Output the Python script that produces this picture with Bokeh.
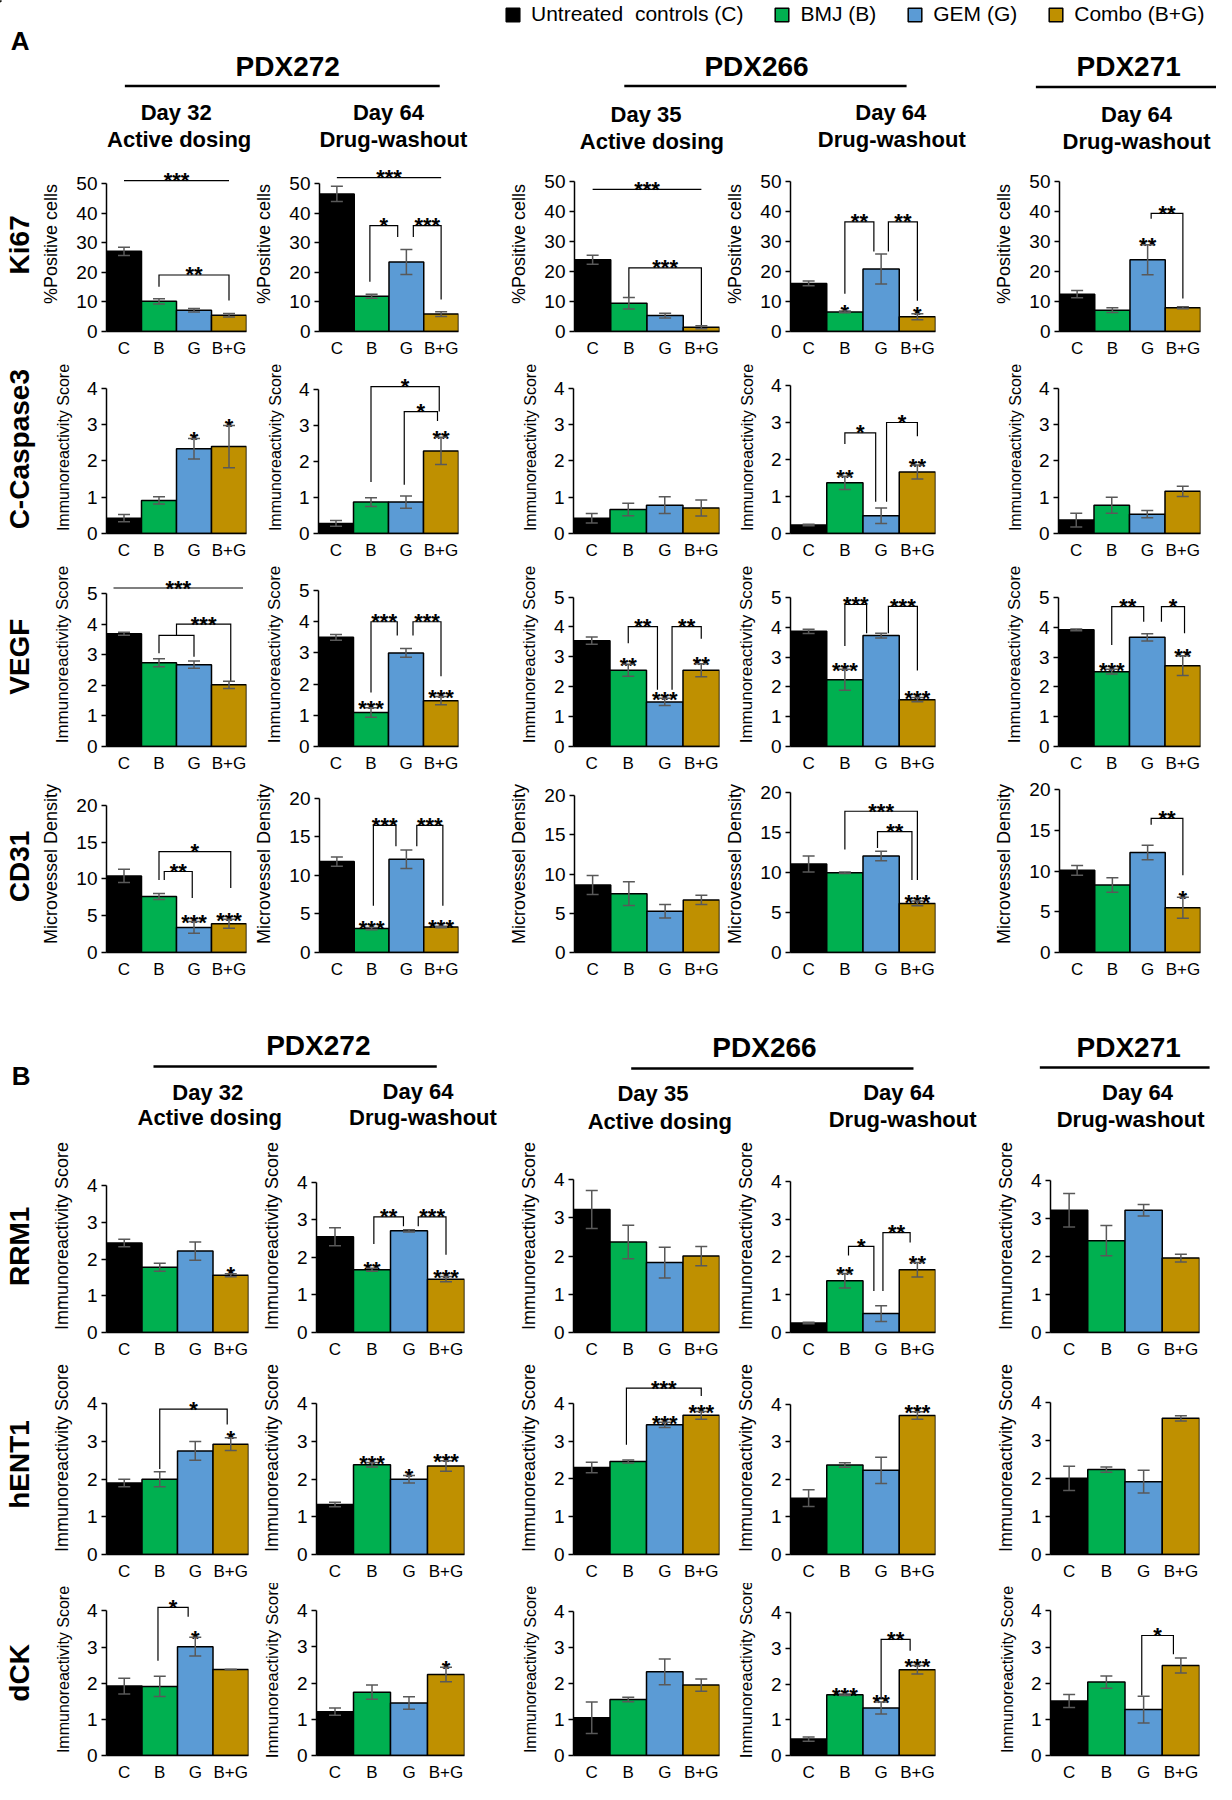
import math
from bokeh.plotting import figure
from bokeh.models import (Range1d, FixedTicker, ColumnDataSource, Whisker, TeeHead,
                          Legend, LegendItem)
from bokeh.layouts import row, column
from bokeh.embed import file_html
from bokeh.resources import INLINE
from bokeh.core.properties import value

# ---------------- data ----------------
GROUPS = ["C", "B", "G", "B+G"]
COLORS = ["#000000", "#00B050", "#5B9BD5", "#BF9000"]
LEGEND_LABELS = ["Untreated  controls (C)", "BMJ (B)", "GEM (G)", "Combo (B+G)"]
MODELS = ["PDX272", "PDX266", "PDX271"]
PANEL_TITLES = [("Day 32", "Active dosing"), ("Day 64", "Drug-washout"),
                ("Day 35", "Active dosing"), ("Day 64", "Drug-washout"),
                ("Day 64", "Drug-washout")]

MARKERS = ["Ki67", "C-Caspase3", "VEGF", "CD31", "RRM1", "hENT1", "dCK"]
Y_LABELS = ["%Positive cells", "Immunoreactivity Score", "Immunoreactivity Score",
            "Microvessel Density", "Immunoreactivity Score", "Immunoreactivity Score",
            "Immunoreactivity Score"]
Y_MAX = [50, 4, 5, 20, 4, 4, 4]
Y_STEP = [10, 1, 1, 5, 1, 1, 1]

# columns: PDX272 D32, PDX272 D64, PDX266 D35, PDX266 D64, PDX271 D64
KI67_MEAN = [[27.1, 10.2, 7.2, 5.5], [46.5, 11.9, 23.5, 5.9], [23.9, 9.4, 5.3, 1.4],
             [16.0, 6.5, 20.8, 4.9], [12.4, 7.1, 23.9, 7.9]]
KI67_ERR = [[1.4, 0.9, 0.6, 0.6], [2.6, 0.7, 4.2, 0.8], [1.5, 1.9, 0.8, 0.5],
            [0.8, 0.3, 5.0, 1.0], [1.2, 0.8, 5.0, 0.3]]
CASP3_MEAN = [[0.42, 0.91, 2.33, 2.39], [0.28, 0.87, 0.87, 2.29], [0.42, 0.66, 0.78, 0.70],
              [0.23, 1.37, 0.48, 1.66], [0.37, 0.78, 0.53, 1.16]]
CASP3_ERR = [[0.10, 0.10, 0.28, 0.58], [0.08, 0.12, 0.17, 0.38], [0.13, 0.17, 0.23, 0.22],
             [0.02, 0.18, 0.21, 0.19], [0.19, 0.22, 0.10, 0.14]]
VEGF_MEAN = [[3.69, 2.74, 2.68, 2.02], [3.50, 1.09, 3.00, 1.47], [3.54, 2.55, 1.49, 2.55],
             [3.86, 2.24, 3.72, 1.57], [3.91, 2.51, 3.66, 2.71]]
VEGF_ERR = [[0.05, 0.13, 0.12, 0.12], [0.09, 0.15, 0.14, 0.13], [0.12, 0.20, 0.12, 0.22],
            [0.07, 0.35, 0.08, 0.07], [0.03, 0.08, 0.12, 0.33]]
CD31_MEAN = [[10.4, 7.6, 3.4, 3.9], [11.8, 3.1, 12.1, 3.3], [8.6, 7.5, 5.25, 6.7],
             [11.1, 10.0, 12.1, 6.15], [10.1, 8.3, 12.3, 5.5]]
CD31_ERR = [[0.9, 0.4, 0.8, 0.6], [0.6, 0.15, 1.2, 0.1], [1.2, 1.5, 0.85, 0.6],
            [1.0, 0.1, 0.6, 0.3], [0.6, 0.9, 0.9, 1.3]]
RRM1_MEAN = [[2.44, 1.78, 2.22, 1.56], [2.55, 1.67, 2.71, 1.42], [3.22, 2.37, 1.83, 2.00],
             [0.25, 1.37, 0.50, 1.66], [3.22, 2.42, 3.22, 1.96]]
RRM1_ERR = [[0.10, 0.11, 0.25, 0.04], [0.24, 0.04, 0.03, 0.07], [0.50, 0.44, 0.40, 0.25],
            [0.02, 0.19, 0.21, 0.19], [0.44, 0.40, 0.15, 0.10]]
HENT1_MEAN = [[1.90, 2.00, 2.75, 2.93], [1.33, 2.38, 2.00, 2.35], [2.30, 2.46, 3.43, 3.68],
              [1.50, 2.38, 2.24, 3.70], [2.01, 2.24, 1.92, 3.59]]
HENT1_ERR = [[0.10, 0.20, 0.25, 0.17], [0.06, 0.06, 0.10, 0.14], [0.14, 0.04, 0.07, 0.10],
             [0.22, 0.06, 0.35, 0.10], [0.32, 0.07, 0.30, 0.07]]
DCK_MEAN = [[1.92, 1.91, 3.01, 2.38], [1.21, 1.75, 1.45, 2.24], [1.05, 1.56, 2.33, 1.96],
            [0.46, 1.70, 1.33, 2.40], [1.51, 2.03, 1.27, 2.49]]
DCK_ERR = [[0.22, 0.28, 0.26, 0.00], [0.10, 0.20, 0.17, 0.20], [0.44, 0.06, 0.36, 0.17],
           [0.06, 0.02, 0.17, 0.12], [0.18, 0.17, 0.37, 0.21]]

# significance marks above single bars (vs. control)
N = ["", "", "", ""]
KI67_STARS = [N, N, N, ["", "*", "", "*"], ["", "", "**", ""]]
CASP3_STARS = [["", "", "*", "*"], ["", "", "", "**"], N, ["", "**", "", "**"], N]
VEGF_STARS = [N, ["", "***", "", "***"], ["", "**", "***", "**"], ["", "***", "", "***"],
              ["", "***", "", "**"]]
CD31_STARS = [["", "", "***", "***"], ["", "***", "", "***"], N, ["", "", "", "***"],
              ["", "", "", "*"]]
RRM1_STARS = [["", "", "", "*"], ["", "**", "", "***"], N, ["", "**", "", "**"], N]
HENT1_STARS = [["", "", "", "*"], ["", "***", "*", "***"], ["", "", "***", "***"],
               ["", "", "", "***"], N]
DCK_STARS = [["", "", "*", ""], ["", "", "", "*"], N, ["", "***", "**", "***"], N]

# pairwise comparison brackets: (x1, x2, bar level, leg1 end, leg2 end, label)
KI67_BR = [[(0, 3, 51, 51, 51, "***"), (1, 3, 19.1, 15.1, 10.5, "**")],
           [(0, 3, 52, 52, 52, "***"), (0.95, 1.75, 35.8, 16.8, 31.9, "*"),
            (2.2, 3, 35.8, 31.9, 10.8, "***")],
           [(0, 3, 47.3, 47.3, 47.3, "***"), (1, 3, 21.2, 11.3, 2.2, "***")],
           [(1, 1.8, 36.5, 12.6, 26.6, "**"), (2.2, 3, 36.5, 26.6, 10.2, "**")],
           [(2.1, 3, 39.3, 37.5, 11.0, "**")]]
CASP3_BR = [[], [(1, 2.95, 4.07, 1.43, 3.38, "*"), (1.95, 2.9, 3.38, 1.35, 3.12, "*")], [],
            [(1, 1.85, 2.72, 2.42, 0.86, "*"), (2.15, 3, 3.0, 0.86, 2.63, "*")], []]
VEGF_BR = [[(-0.3, 3.4, 5.19, 5.19, 5.19, "***"), (1, 2, 3.64, 3.05, 2.94, ""),
            (1.5, 3.05, 4.01, 3.64, 2.14, "***")],
           [(1, 1.75, 4.0, 1.73, 3.56, "***"), (2.2, 3, 4.0, 3.56, 2.25, "***")],
           [(1, 1.8, 4.01, 3.45, 1.9, "**"), (2.2, 3, 4.01, 1.9, 3.6, "**")],
           [(1, 1.6, 4.76, 3.37, 3.8, "***"), (2.2, 3, 4.7, 3.8, 2.55, "***")],
           [(1, 1.9, 4.69, 3.4, 4.18, "**"), (2.4, 3.05, 4.69, 4.18, 3.8, "*")]]
CD31_BR = [[(1, 3.05, 13.7, 9.85, 8.75, "*"), (1.15, 1.95, 11.0, 9.85, 7.4, "**")],
           [(1.05, 1.7, 16.5, 6.07, 13.8, "***"), (2.3, 3.05, 16.5, 13.8, 6.07, "***")],
           [],
           [(1, 3, 17.7, 12.9, 9.1, "***"), (1.9, 2.85, 15.15, 13.1, 9.1, "**")],
           [(2.1, 3, 16.5, 15.7, 9.5, "**")]]
RRM1_BR = [[], [(1.05, 1.85, 3.08, 2.36, 2.83, "**"), (2.25, 3.0, 3.08, 2.83, 2.07, "***")],
           [], [(1.1, 1.8, 2.28, 2.04, 1.1, "*"), (2.05, 2.8, 2.64, 1.1, 2.38, "**")], []]
HENT1_BR = [[(1, 2.9, 3.86, 2.27, 3.45, "*")], [], [(0.95, 3, 4.4, 2.9, 4.19, "***")], [], []]
DCK_BR = [[(0.95, 1.8, 4.1, 2.62, 3.84, "*")], [], [],
          [(2, 2.8, 3.25, 1.57, 2.93, "**")], [(1.95, 2.8, 3.32, 1.66, 2.8, "*")]]

ALL_MEAN = [KI67_MEAN, CASP3_MEAN, VEGF_MEAN, CD31_MEAN, RRM1_MEAN, HENT1_MEAN, DCK_MEAN]
ALL_ERR = [KI67_ERR, CASP3_ERR, VEGF_ERR, CD31_ERR, RRM1_ERR, HENT1_ERR, DCK_ERR]
ALL_STARS = [KI67_STARS, CASP3_STARS, VEGF_STARS, CD31_STARS, RRM1_STARS, HENT1_STARS, DCK_STARS]
ALL_BR = [KI67_BR, CASP3_BR, VEGF_BR, CD31_BR, RRM1_BR, HENT1_BR, DCK_BR]

# ---------------- layout (reference pixel grid, scaled to fit the window) ----------------
TOTAL_H = 1801
SCX = 1216 / 1232
SCY = 1784 / TOTAL_H
FONT = "Liberation Sans"
STAR_SIZE = "22px"
LABEL_EM = {"%Positive cells": 6.67, "Immunoreactivity Score": 10.45,
            "Microvessel Density": 8.89}


def scx(v):
    return int(round(v * SCX))


def scy(v):
    return int(round(v * SCY))


A_FRAMES = [(107, 249), (322, 464), (581, 728), (800, 947), (1072, 1216)]
A_EDGES = [0, 39, 254, 513, 732, 1004, 1232]
B_FRAMES = [(107, 251), (320, 470), (581, 728), (800, 947), (1064, 1215)]
B_EDGES = [0, 39, 252, 513, 732, 996, 1232]

ROW_GEOM = [
    (157, 364, [(185, 338), (185, 338), (182, 334), (182, 334), (182, 334)]),
    (364, 567, [(391.7, 543.3), (393, 544), (391.7, 543), (389, 543), (391.7, 543)]),
    (567, 782, [(599, 755), (595.7, 755), (603, 759), (603, 757), (603, 757)]),
    (782, 990, [(812.7, 965), (805.7, 965), (802.7, 965), (800, 965), (796.7, 963)]),
    (1150, 1374, [(1198, 1350), (1194, 1348), (1191.7, 1350), (1193.3, 1350), (1192.7, 1350)]),
    (1374, 1598, [(1417, 1570), (1417, 1570), (1417, 1572.7), (1418, 1573), (1417, 1575)]),
    (1598, TOTAL_H, [(1627, 1780), (1627, 1781.7), (1628, 1780), (1629, 1781.7), (1627, 1780)]),
]


def style_blank(p):
    p.outline_line_color = None
    p.grid.visible = False
    p.background_fill_color = "white"
    p.border_fill_color = "white"


def make_panel(mi, ci, frames, edges):
    means = ALL_MEAN[mi][ci]
    errs = ALL_ERR[mi][ci]
    stars = ALL_STARS[mi][ci]
    brs = ALL_BR[mi][ci]
    band_t, band_b, geo = ROW_GEOM[mi]
    tick_px, zero_px = geo[ci]
    fl, fr = frames[ci]
    el, er = edges[ci + 1], edges[ci + 2]
    tmax = Y_MAX[mi]
    frame_h = scy(zero_px) - scy(band_t)
    ytop = tmax * (zero_px - band_t) / (zero_px - tick_px)

    p = figure(width=scx(er) - scx(el), height=scy(band_b) - scy(band_t),
               x_range=Range1d(-0.5, 3.5), y_range=Range1d(0, ytop),
               output_backend="svg", toolbar_location=None, title=None,
               min_border_left=scx(fl) - scx(el), min_border_right=scx(er) - scx(fr),
               min_border_top=0, min_border_bottom=scy(band_b) - scy(zero_px))
    style_blank(p)

    src = ColumnDataSource(dict(x=[0, 1, 2, 3], top=means, color=COLORS,
                                upper=[m + e for m, e in zip(means, errs)],
                                lower=[m - e for m, e in zip(means, errs)]))
    p.vbar(x="x", top="top", width=1.0, fill_color="color", line_color="black",
           line_width=1.5, source=src)
    wc = "#595959"
    p.add_layout(Whisker(base="x", upper="upper", lower="lower", source=src,
                         line_color=wc, line_width=1.5, level="overlay",
                         upper_head=TeeHead(size=12, line_color=wc, line_width=1.5),
                         lower_head=TeeHead(size=12, line_color=wc, line_width=1.5)))

    sx = [i for i, s in enumerate(stars) if s]
    if sx:
        p.text(x=sx, y=[means[i] + errs[i] for i in sx], text=[stars[i] for i in sx],
               text_align="center", text_baseline="alphabetic", y_offset=1,
               text_font=value(FONT), text_font_style="bold", text_font_size=STAR_SIZE,
               text_color="black")
    if brs:
        xs = [[b[0], b[0], b[1], b[1]] for b in brs]
        ys = [[b[3], b[2], b[2], b[4]] for b in brs]
        p.multi_line(xs, ys, line_color="black", line_width=1.2, line_join="miter")
        lab = [b for b in brs if b[5]]
        p.text(x=[(b[0] + b[1]) / 2 for b in lab], y=[b[2] for b in lab],
               text=[b[5] for b in lab], text_align="center", text_baseline="alphabetic",
               y_offset=0, text_font=value(FONT), text_font_style="bold",
               text_font_size=STAR_SIZE, text_color="black")

    lab_size = min(18, int((frame_h - 4) / LABEL_EM[Y_LABELS[mi]]))
    ya = p.yaxis[0]
    ya.ticker = FixedTicker(ticks=list(range(0, tmax + 1, Y_STEP[mi])))
    ya.bounds = (0, tmax)
    ya.axis_label = Y_LABELS[mi]
    ya.axis_label_text_font = FONT
    ya.axis_label_text_font_size = f"{lab_size}px"
    ya.axis_label_text_font_style = "normal"
    ya.axis_label_text_color = "black"
    ya.axis_label_standoff = 12
    ya.major_label_text_font = FONT
    ya.major_label_text_font_size = "19px"
    ya.major_label_text_color = "black"
    ya.major_label_standoff = 4
    ya.major_tick_out = 5
    ya.major_tick_in = 0
    ya.major_tick_line_color = "black"
    ya.major_tick_line_width = 1.5
    ya.minor_tick_line_color = None
    ya.axis_line_color = "black"
    ya.axis_line_width = 1.5

    xa = p.xaxis[0]
    xa.ticker = FixedTicker(ticks=[0, 1, 2, 3])
    xa.major_label_overrides = {i: g for i, g in enumerate(GROUPS)}
    xa.major_label_text_font = FONT
    xa.major_label_text_font_size = "17px"
    xa.major_label_text_color = "black"
    xa.major_label_standoff = 1
    xa.major_tick_line_color = None
    xa.minor_tick_line_color = None
    xa.axis_line_color = "black"
    xa.axis_line_width = 1.5
    return p


def make_row_label(mi, edges):
    band_t, band_b, geo = ROW_GEOM[mi]
    tick_px, zero_px = geo[0]
    h = band_b - band_t
    p = figure(width=scx(edges[1]) - scx(edges[0]), height=scy(band_b) - scy(band_t),
               x_range=Range1d(0, edges[1] - edges[0]), y_range=Range1d(0, h),
               output_backend="svg", toolbar_location=None, title=None,
               x_axis_location=None, y_axis_location=None, min_border=0)
    style_blank(p)
    yc = band_b - (tick_px + zero_px) / 2
    p.text(x=[19], y=[yc], text=[MARKERS[mi]], angle=math.pi / 2, text_align="center",
           text_baseline="middle", text_font=value(FONT), text_font_style="bold",
           text_font_size="28px", text_color="black")
    return p


def make_header(top, bottom, letter, letter_xy, model_xy, lines, day_xy, wash_xy, legend=False):
    p = figure(width=scx(1232), height=scy(bottom) - scy(top),
               x_range=Range1d(0, 1232), y_range=Range1d(bottom, top),
               output_backend="svg", toolbar_location=None, title=None,
               x_axis_location=None, y_axis_location=None, min_border=0)
    style_blank(p)
    p.text(x=[letter_xy[0]], y=[letter_xy[1]], text=[letter], text_align="center",
           text_baseline="middle", text_font=value(FONT), text_font_style="bold",
           text_font_size="26px", text_color="black")
    p.text(x=[m[0] for m in model_xy], y=[m[1] for m in model_xy], text=MODELS,
           text_align="center", text_baseline="middle", text_font=value(FONT),
           text_font_style="bold", text_font_size="28px", text_color="black")
    p.segment(x0=[l[0] for l in lines], x1=[l[1] for l in lines],
              y0=[l[2] for l in lines], y1=[l[2] for l in lines],
              line_color="black", line_width=2.5)
    p.text(x=[d[0] for d in day_xy], y=[d[1] for d in day_xy],
           text=[t[0] for t in PANEL_TITLES], text_align="center", text_baseline="middle",
           text_font=value(FONT), text_font_style="bold", text_font_size="22px",
           text_color="black")
    p.text(x=[d[0] for d in wash_xy], y=[d[1] for d in wash_xy],
           text=[t[1] for t in PANEL_TITLES], text_align="center", text_baseline="middle",
           text_font=value(FONT), text_font_style="bold", text_font_size="22px",
           text_color="black")
    if legend:
        rs = [p.vbar(x=[-500], top=[1], width=1, fill_color=c, line_color="black",
                     line_width=1.5) for c in COLORS]
        items = [LegendItem(label=l, renderers=[r]) for l, r in zip(LEGEND_LABELS, rs)]
        H = scy(bottom) - scy(top)
        leg = Legend(items=items, orientation="horizontal", location=(scx(511), H - 26),
                     glyph_width=17, glyph_height=17, label_text_font=FONT,
                     label_text_font_size="21px", label_text_color="black",
                     label_standoff=10, spacing=30, padding=0, margin=0,
                     border_line_color=None, background_fill_alpha=0)
        p.add_layout(leg)
    return p


headerA = make_header(
    0, 157, "A", (20, 41),
    [(291, 66), (766, 66), (1143, 66)],
    [(126, 445, 86), (632, 918, 86), (1049, 1232, 87)],
    [(178, 113), (393, 113), (654, 115), (902, 113), (1151, 115)],
    [(181, 140), (398, 140), (660, 142), (903, 140), (1151, 142)],
    legend=True)
headerB = make_header(
    990, 1150, "B", (21, 1086),
    [(322, 1055), (774, 1057), (1143, 1057)],
    [(155, 442, 1076), (639, 925, 1078), (1053, 1225, 1077)],
    [(210, 1102), (423, 1101), (661, 1103), (910, 1102), (1152, 1102)],
    [(212, 1128), (428, 1128), (668, 1132), (914, 1130), (1145, 1130)])

blocks = [headerA]
for mi in range(len(MARKERS)):
    if mi == 4:
        blocks.append(headerB)
    frames, edges = (A_FRAMES, A_EDGES) if mi < 4 else (B_FRAMES, B_EDGES)
    figs = [make_row_label(mi, edges)] + [make_panel(mi, ci, frames, edges) for ci in range(5)]
    blocks.append(row(*figs))

layout = column(*blocks)
open("out.html", "w").write(file_html(layout, INLINE, "Figure"))
